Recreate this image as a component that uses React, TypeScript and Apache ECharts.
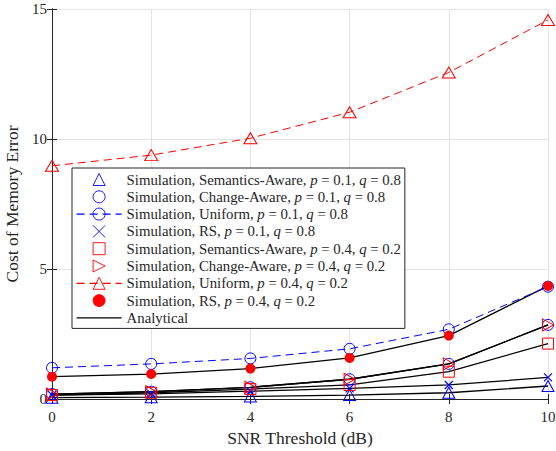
import React, { useEffect, useRef } from "react";
import * as echarts from "echarts";

const snr = [0, 2, 4, 6, 8, 10];
const sa01 = [0.05, 0.07, 0.1, 0.15, 0.24, 0.5];
const ca01 = [0.19, 0.28, 0.45, 0.76, 1.35, 2.85];
const u01 = [1.2, 1.35, 1.56, 1.93, 2.68, 4.32];
const rs01 = [0.15, 0.2, 0.3, 0.41, 0.54, 0.83];
const sa04 = [0.15, 0.24, 0.38, 0.54, 1.05, 2.13];
const ca04 = [0.19, 0.28, 0.45, 0.76, 1.35, 2.85];
const u04 = [8.97, 9.38, 10.03, 11.03, 12.56, 14.58];
const rs04 = [0.86, 0.96, 1.17, 1.58, 2.44, 4.35];
const anaCurves = [sa01, ca01, rs01, sa04, ca04, rs04];

const names = [
  "Simulation, Semantics-Aware, p = 0.1, q = 0.8",
  "Simulation, Change-Aware, p = 0.1, q = 0.8",
  "Simulation, Uniform, p = 0.1, q = 0.8",
  "Simulation, RS, p = 0.1, q = 0.8",
  "Simulation, Semantics-Aware, p = 0.4, q = 0.2",
  "Simulation, Change-Aware, p = 0.4, q = 0.2",
  "Simulation, Uniform, p = 0.4, q = 0.2",
  "Simulation, RS, p = 0.4, q = 0.2",
  "Analytical",
];

const FONT = "Liberation Serif";
const BLUE = "#0000ff";
const RED = "#ff0000";
const INK = "#262626";

const pairs = (ys: number[]) => snr.map((x, i) => [x, ys[i]]);

const hollow = (c: string) => ({ color: "transparent", borderColor: c, borderWidth: 1 });

export default function App() {
  const ref = useRef<HTMLDivElement>(null);
  useEffect(() => {
    document.body.style.margin = "0";
    const chart = echarts.init(ref.current!, null, { renderer: "svg" });
    const markers = (name: string, ys: number[], symbol: string, size: any, itemStyle: any) => ({
      type: "line",
      name,
      data: pairs(ys),
      symbol,
      symbolSize: size,
      showAllSymbol: true,
      itemStyle,
      lineStyle: { opacity: 0, width: 0 },
      z: 5,
    });
    const series: any[] = [];
    anaCurves.forEach((ys) =>
      series.push({
        type: "line",
        name: "Analytical",
        data: pairs(ys),
        symbol: "none",
        lineStyle: { color: "#000", width: 1.3 },
        itemStyle: { color: "transparent", borderColor: "transparent", borderWidth: 0 },
        z: 3,
      })
    );
    series.push(markers(names[0], sa01, "triangle", [12, 11], hollow(BLUE)));
    series.push(markers(names[1], ca01, "circle", 11, hollow(BLUE)));
    series.push({
      type: "line",
      name: names[2],
      data: pairs(u01),
      symbol: "circle",
      symbolSize: 11,
      showAllSymbol: true,
      itemStyle: hollow(BLUE),
      lineStyle: { color: BLUE, width: 1, type: [8, 5] },
      z: 4,
    });
    series.push(markers(names[3], rs01, "path://M0,0L10,10M10,0L0,10", 8, { color: "transparent", borderColor: BLUE, borderWidth: 1.2 }));
    series.push(markers(names[4], sa04, "rect", 11, hollow(RED)));
    series.push(markers(names[5], ca04, "path://M0,0L10,5L0,10Z", [11, 12], hollow(RED)));
    series.push({
      type: "line",
      name: names[6],
      data: pairs(u04),
      symbol: "triangle",
      symbolSize: [13, 11],
      showAllSymbol: true,
      itemStyle: hollow(RED),
      lineStyle: { color: RED, width: 1, type: [8, 5] },
      z: 4,
    });
    series.push(markers(names[7], rs04, "circle", 10, { color: RED, borderColor: RED, borderWidth: 0 }));

    const axisCommon = {
      axisLine: { show: true, lineStyle: { color: INK, width: 1 } },
      axisTick: { show: true, inside: true, length: 5, lineStyle: { color: INK } },
    };

    chart.setOption({
      animation: false,
      backgroundColor: "#fff",
      grid: { left: 52, right: 8, top: 9, bottom: 52, containLabel: false, outerBoundsMode: "none" },
      xAxis: [
        {
          type: "value",
          min: 0,
          max: 10,
          interval: 2,
          ...axisCommon,
          axisLabel: { fontFamily: FONT, fontSize: 15, color: INK, margin: 10 },
          splitLine: { show: true, lineStyle: { color: "#e3e3e3", width: 1 } },
          name: "SNR Threshold (dB)",
          nameLocation: "middle",
          nameGap: 29,
          nameTextStyle: { fontFamily: FONT, fontSize: 17.5, color: INK },
        },
        {
          type: "value",
          position: "top",
          min: 0,
          max: 10,
          interval: 2,
          ...axisCommon,
          axisLabel: { show: false },
          splitLine: { show: false },
        },
      ],
      yAxis: [
        {
          type: "value",
          min: 0,
          max: 15,
          interval: 5,
          ...axisCommon,
          axisLabel: { fontFamily: FONT, fontSize: 15, color: INK, margin: 5 },
          splitLine: { show: true, lineStyle: { color: "#e3e3e3", width: 1 } },
          name: "Cost of Memory Error",
          nameLocation: "middle",
          nameGap: 26,
          nameTextStyle: { fontFamily: FONT, fontSize: 17.5, color: INK },
        },
        {
          type: "value",
          position: "right",
          min: 0,
          max: 15,
          interval: 5,
          ...axisCommon,
          axisLabel: { show: false },
          splitLine: { show: false },
        },
      ],
      legend: {
        orient: "vertical",
        left: 72,
        top: 168,
        data: names,
        itemWidth: 45,
        itemHeight: 15,
        itemGap: 2.3,
        padding: [4, 4, 3, 4],
        borderColor: INK,
        borderWidth: 1,
        borderRadius: 0,
        backgroundColor: "#fff",
        selectedMode: false,
        itemStyle: { borderWidth: 0.9 },
        lineStyle: { width: 1.2 },
        formatter: (n: string) => n.replace("p =", "{i|p} =").replace("q =", "{i|q} ="),
        textStyle: {
          fontFamily: FONT,
          fontSize: 14.8,
          color: INK,
          lineHeight: 15,
          rich: { i: { fontFamily: FONT, fontSize: 14.8, fontStyle: "italic", color: INK, lineHeight: 15 } },
        },
      },
      series,
    });
    return () => chart.dispose();
  }, []);
  return <div ref={ref} style={{ width: 556, height: 451 }} />;
}
